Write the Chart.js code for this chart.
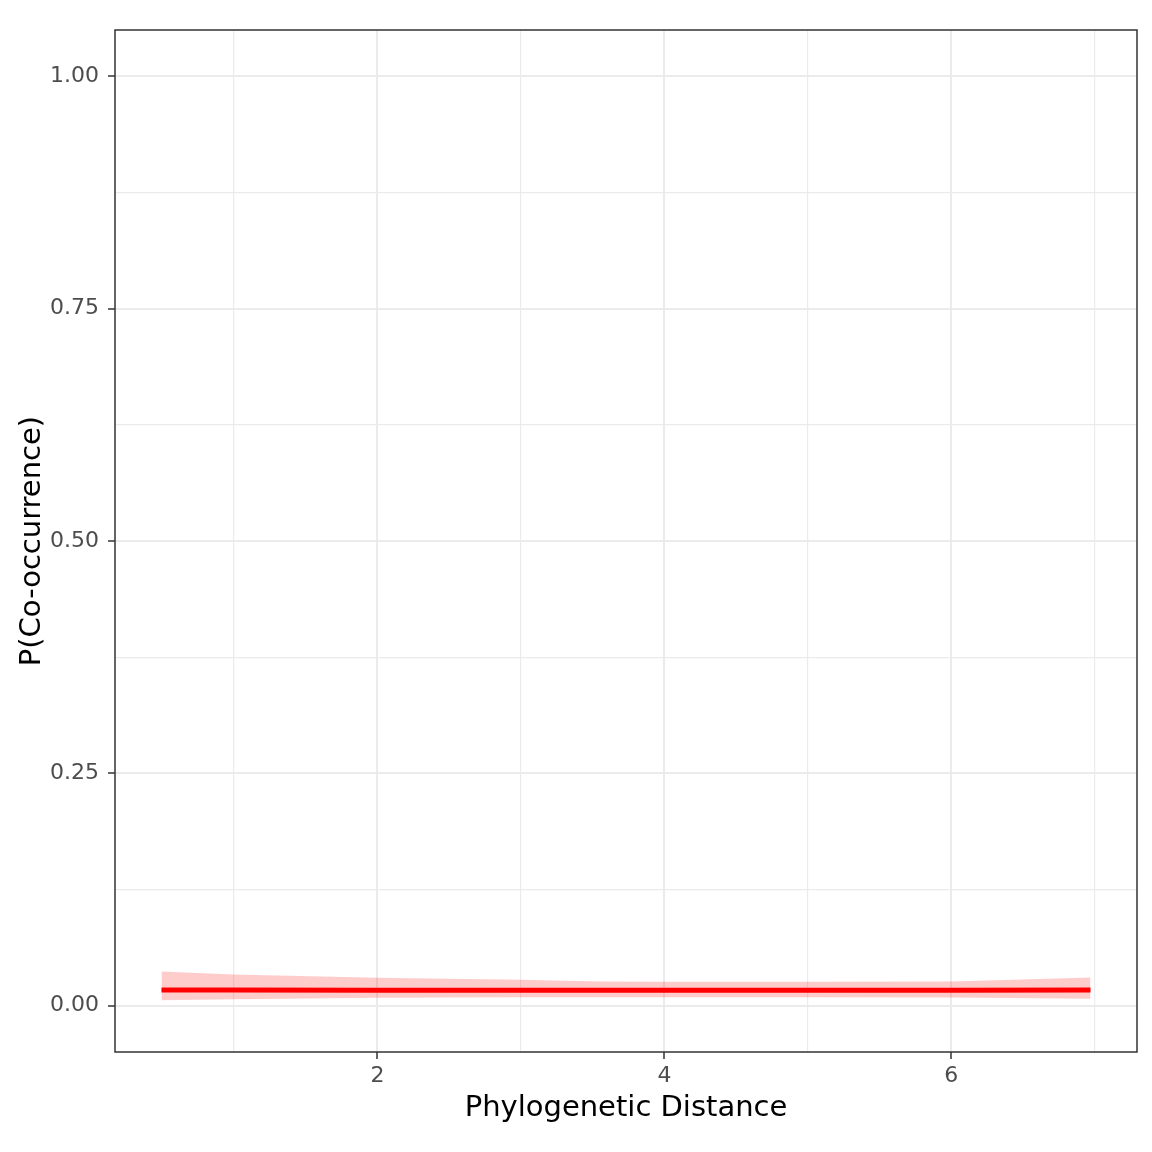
<!DOCTYPE html>
<html>
<head>
<meta charset="utf-8">
<script src="https://cdn.jsdelivr.net/npm/chart.js@4/dist/chart.umd.min.js"></script>
<style>
  html, body { margin: 0; padding: 0; background: #ffffff; }
  #wrap { width: 1152px; height: 1152px; }
</style>
</head>
<body>
<div id="wrap"><canvas id="coocChart" width="1152" height="1152"></canvas></div>
<script>
// fitted curve + confidence band
const distX = [0.495, 1, 2, 3, 3.55, 4, 5, 6, 6.97];
const fitY = [0.0166, 0.0166, 0.0165, 0.0165, 0.0165, 0.0165, 0.0165, 0.0165, 0.0166];
const upperY = [0.0366, 0.0333, 0.0298, 0.0278, 0.0258, 0.0255, 0.0255, 0.0258, 0.0301];
const lowerY = [0.0057, 0.0068, 0.0083, 0.0088, 0.0089, 0.0089, 0.0089, 0.0086, 0.0072];

const xMajor = [2, 4, 6];
const xMinor = [1, 3, 5, 7];
const yMajor = [0, 0.25, 0.5, 0.75, 1];
const yMinor = [0.125, 0.375, 0.625, 0.875];
const yLabels = ["0.00", "0.25", "0.50", "0.75", "1.00"];

const FONT = "'DejaVu Sans', 'Liberation Sans', sans-serif";

const toPoints = (ys) => distX.map((x, i) => ({ x: x, y: ys[i] }));
const isMajor = (list, v) => list.some(m => Math.abs(m - v) < 1e-9);

// panel border like theme_bw
const panelBorder = {
    id: "panelBorder",
    afterDatasetsDraw(chart) {
        const { ctx, chartArea } = chart;
        ctx.save();
        ctx.strokeStyle = "#333333";
        ctx.lineWidth = 1.5;
        ctx.strokeRect(chartArea.left, chartArea.top, chartArea.right - chartArea.left, chartArea.bottom - chartArea.top);
        ctx.restore();
    }
};

const ctx = document.getElementById("coocChart").getContext("2d");
new Chart(ctx, {
    type: "line",
    data: {
        datasets: [
            {
                label: "upper",
                data: toPoints(upperY),
                borderWidth: 0,
                pointRadius: 0,
                backgroundColor: "rgba(255, 0, 0, 0.2)",
                fill: "+1",
                order: 2
            },
            {
                label: "lower",
                data: toPoints(lowerY),
                borderWidth: 0,
                pointRadius: 0,
                backgroundColor: "rgba(255, 0, 0, 0.2)",
                fill: false,
                order: 2
            },
            {
                label: "fit",
                data: toPoints(fitY),
                borderColor: "#ff0000",
                borderWidth: 5,
                pointRadius: 0,
                fill: false,
                order: 1
            }
        ]
    },
    options: {
        responsive: false,
        animation: false,
        layout: { padding: { top: 30, right: 15, left: 0, bottom: 0 } },
        plugins: {
            legend: { display: false },
            tooltip: { enabled: false }
        },
        scales: {
            x: {
                type: "linear",
                min: 0.171,
                max: 7.294,
                afterFit: (scale) => { scale.height = 100; },
                afterBuildTicks: (scale) => {
                    scale.ticks = xMajor.concat(xMinor).sort((a, b) => a - b).map(v => ({ value: v }));
                },
                border: { display: false },
                grid: {
                    color: "#ebebeb",
                    lineWidth: (c) => isMajor(xMajor, c.tick.value) ? 2 : 1.2,
                    tickLength: 7,
                    tickColor: (c) => isMajor(xMajor, c.tick.value) ? "#333333" : "rgba(0,0,0,0)",
                    tickWidth: 1.5
                },
                ticks: {
                    autoSkip: false,
                    maxRotation: 0,
                    padding: 4,
                    color: "#4d4d4d",
                    font: { family: FONT, size: 22 },
                    callback: (v) => isMajor(xMajor, v) ? String(v) : ""
                },
                title: {
                    display: true,
                    text: "Phylogenetic Distance",
                    color: "#000000",
                    font: { family: FONT, size: 29 },
                    padding: { top: 0, bottom: 26 }
                }
            },
            y: {
                type: "linear",
                min: -0.05,
                max: 1.05,
                afterFit: (scale) => { scale.width = 115; },
                afterBuildTicks: (scale) => {
                    scale.ticks = yMajor.concat(yMinor).sort((a, b) => a - b).map(v => ({ value: v }));
                },
                border: { display: false },
                grid: {
                    color: "#ebebeb",
                    lineWidth: (c) => isMajor(yMajor, c.tick.value) ? 2 : 1.2,
                    tickLength: 7,
                    tickColor: (c) => isMajor(yMajor, c.tick.value) ? "#333333" : "rgba(0,0,0,0)",
                    tickWidth: 1.5
                },
                ticks: {
                    autoSkip: false,
                    padding: 9,
                    color: "#4d4d4d",
                    font: { family: FONT, size: 22 },
                    callback: (v) => {
                        const i = yMajor.findIndex(m => Math.abs(m - v) < 1e-9);
                        return i >= 0 ? yLabels[i] : "";
                    }
                },
                title: {
                    display: true,
                    text: "P(Co-occurrence)",
                    color: "#000000",
                    font: { family: FONT, size: 29 },
                    padding: { top: 15, bottom: 0 }
                }
            }
        }
    },
    plugins: [panelBorder]
});
</script>
</body>
</html>
